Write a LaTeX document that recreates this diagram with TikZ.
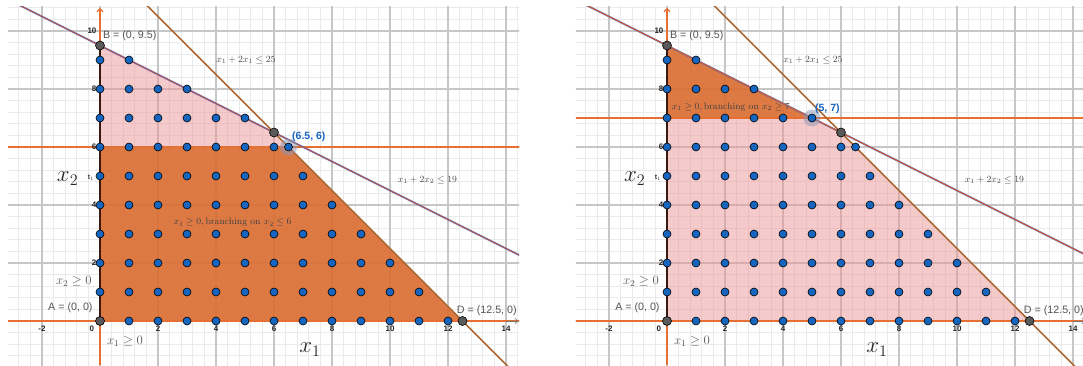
\RequirePackage{fix-cm}
\documentclass[tikz,border=0pt]{standalone}
\usepackage{amsmath}
\usepackage{fontspec}
\setsansfont{Liberation Sans}
\usetikzlibrary{arrows.meta}
\definecolor{gridmin}{RGB}{234,234,234}
\definecolor{gridmaj}{RGB}{198,198,198}
\definecolor{darkfill}{RGB}{218,108,48}
\definecolor{pinkfill}{RGB}{236,150,150}
\definecolor{orline}{RGB}{230,112,50}
\definecolor{diagline}{RGB}{200,92,40}
\definecolor{diagbase}{RGB}{130,130,70}
\definecolor{blueline}{RGB}{90,110,200}
\definecolor{redline}{RGB}{196,84,60}
\definecolor{redline2}{RGB}{208,88,48}
\definecolor{dotblue}{RGB}{22,102,192}
\definecolor{ptgray}{RGB}{90,90,90}
\definecolor{lblgray}{RGB}{85,85,85}
\definecolor{lblblue}{RGB}{25,100,190}
\definecolor{edgebrown}{RGB}{60,25,15}
\definecolor{halocol}{RGB}{140,150,185}
\tikzset{
 minorgrid/.style={draw=gridmin, line width=0.8pt},
 majorgrid/.style={draw=gridmaj, line width=1.3pt},
 intdot/.style={circle, fill=dotblue, draw=black, line width=0.6pt, inner sep=0pt, minimum size=8pt},
 vertexpt/.style={circle, fill=ptgray, draw=black, line width=0.6pt, inner sep=0pt, minimum size=9pt},
 halo/.style={circle, fill=halocol, fill opacity=0.5, inner sep=0pt, minimum size=17pt},
 ticklbl/.style={font=\sffamily\bfseries\fontsize{8}{9}\selectfont, text=black!85, inner sep=0.5pt},
 ptlbl/.style={font=\sffamily\fontsize{10.7}{12}\selectfont, text=lblgray, inner sep=0pt},
 optlbl/.style={font=\sffamily\bfseries\fontsize{10.5}{12}\selectfont, text=lblblue, inner sep=0pt},
 eqlbl/.style={font=\fontsize{9.4}{11}\selectfont, text=black!70, inner sep=0pt},
 signlbl/.style={font=\fontsize{12.8}{14}\selectfont, text=black!65, inner sep=0pt},
 axislbl/.style={font=\fontsize{23}{26}\selectfont, text=black!85, inner sep=0pt},
 orangeline/.style={draw=orline, line width=1.35pt},
 bluebase/.style={draw=blueline, line width=1.7pt},
 diagunder/.style={draw=diagbase, line width=1.6pt},
 diag/.style={draw=diagline, line width=0.9pt},
 edgeline/.style={draw=edgebrown, line width=1.5pt},
 smalltip/.style={-{Straight Barb[length=3pt,width=6pt]}},
}
% grid of a panel: #1 xmin, #2 xmax
\newcommand\lpgrid[2]{%
 \begin{scope}
 \clip (#1,-1.52) rectangle (#2,10.83);
 \foreach \i in {-8,...,37} \draw[minorgrid] ({\i*0.4},-1.6) -- ({\i*0.4},11);
 \foreach \j in {-4,...,27} \draw[minorgrid] (-3.6,{\j*0.4}) -- (14.8,{\j*0.4});
 \foreach \i in {-2,0,...,14} \draw[majorgrid] (\i,-1.6) -- (\i,11);
 \foreach \j in {0,2,...,10} \draw[majorgrid] (-3.6,\j) -- (14.8,\j);
 \end{scope}}
% constraint lines, clipped: #1 xmin, #2 xmax, #3 branching level, #4 style of the top stroke of line 19
\newcommand\lplines[4]{%
 \begin{scope}
 \clip (#1,-1.52) rectangle (#2,10.83);
 \draw[orangeline] (-3.6,0) -- (14.8,0);
 \draw[orangeline] (-3.6,#3) -- (14.8,#3);
 \draw[bluebase] (-3.6,11.3) -- (14.8,2.1);
 \draw[#4] (-3.6,11.3) -- (14.8,2.1);
 \draw[diagunder] (1.2,11.3) -- (14.2,-1.7);
 \draw[diag] (1.2,11.3) -- (14.2,-1.7);
 \end{scope}
 \draw[orangeline, smalltip] (0,-1.52) -- (0,10.8);
 \draw[black!55, line width=0.6pt, smalltip] (14.0,0) -- (14.42,0);
 \draw[edgeline] (0,0) -- (0,9.5);}
% integer points and vertices: #1 prefix
\newcommand\lpdots[1]{%
 \foreach \yy/\xm in {0/12,1/11,2/10,3/9,4/8,5/7,6/6,7/5,8/3,9/1}{
  \foreach \xx in {0,...,\xm} \node[intdot] (#1d\xx-\yy) at (\xx,\yy) {};
 }
 \node[intdot] (#1opt) at (6.5,6) {};
 \node[vertexpt] (#1A) at (0,0) {};
 \node[vertexpt] (#1B) at (0,9.5) {};
 \node[vertexpt] (#1C) at (6,6.5) {};
 \node[vertexpt] (#1D) at (12.5,0) {};}
% tick labels and common labels: #1 prefix
\newcommand\lplabels[1]{%
 \foreach \v in {2,4,...,10} \node[ticklbl, anchor=east] (#1ty\v) at (-0.1,\v) {\v};
 \foreach \v in {2,4,...,14} \node[ticklbl] (#1tx\v) at (\v,-0.28) {\v};
 \node[ticklbl] (#1txm2) at (-2,-0.28) {-2};
 \node[ticklbl] (#1tx0) at (-0.28,-0.28) {0};
 \node[ptlbl, anchor=west] (#1lB) at (0.1,9.82) {B = (0, 9.5)};
 \node[ptlbl, anchor=east] (#1lA) at (-0.25,0.46) {A = (0, 0)};
 \node[ptlbl, anchor=west] (#1lD) at (12.3,0.36) {D = (12.5, 0)};
 \node[eqlbl] (#1l25) at (5.03,9.0) {$x_1+2x_1\leq 25$};
 \node[eqlbl] (#1l19) at (11.29,4.87) {$x_1+2x_2\leq 19$};
 \node[signlbl] (#1lx2) at (-0.9,1.355) {$x_2\geq 0$};
 \node[signlbl] (#1lx1) at (0.86,-0.71) {$x_1\geq 0$};
 \node[axislbl, anchor=base west] (#1X2) at (-1.49,4.8) {$x_2$};
 \node[axislbl, anchor=base west] (#1X1) at (6.87,-1.10) {$x_1$};
 \node[font=\sffamily\bfseries\fontsize{7}{8}\selectfont, text=black!80, inner sep=0pt] (#1t1) at (-0.31,4.93) {t$_1$};}
\begin{document}
\begin{tikzpicture}
\useasboundingbox (0pt,0pt) rectangle (1083pt,365pt);
\fill[white] (0pt,0pt) rectangle (1083pt,365pt);
% ---------------- left panel ----------------
\begin{scope}[shift={(100pt,44pt)}, x=29pt, y=29pt]
 \lpgrid{-3.17}{14.45}
 \fill[darkfill, fill opacity=0.9] (0,0) -- (0,6) -- (6.5,6) -- (12.5,0) -- cycle;
 \fill[pinkfill, fill opacity=0.5] (0,6) -- (0,9.5) -- (6,6.5) -- (6.5,6) -- cycle;
 \lplines{-3.17}{14.45}{6}{draw=redline, line width=0.7pt}
 \node[halo] (Lhalo) at (6.5,6) {};
 \lpdots{L}
 \lplabels{L}
 \node[optlbl, anchor=west] (Lopt) at (6.62,6.34) {(6.5, 6)};
 \node[eqlbl, text=black!75] (Lbr) at (4.57,3.39) {$x_1\geq 0, \text{branching on } x_2\leq 6$};
\end{scope}
% ---------------- right panel ----------------
\begin{scope}[shift={(667pt,44pt)}, x=29pt, y=29pt]
 \lpgrid{-3.14}{14.34}
 \fill[pinkfill, fill opacity=0.5] (0,0) -- (0,7) -- (5,7) -- (6,6.5) -- (12.5,0) -- cycle;
 \fill[darkfill, fill opacity=0.9] (0,7) -- (0,9.5) -- (5,7) -- cycle;
 \lplines{-3.14}{14.34}{7}{draw=redline2, line width=1.1pt}
 \node[halo] (Rhalo) at (5,7) {};
 \lpdots{R}
 \lplabels{R}
 \node[optlbl, anchor=west] (Ropt) at (5.1,7.33) {(5, 7)};
 \node[eqlbl, text=black!75] (Rbr) at (2.2,7.37) {$x_1\geq 0, \text{branching on } x_2\geq 7$};
\end{scope}
\end{tikzpicture}
\end{document}
